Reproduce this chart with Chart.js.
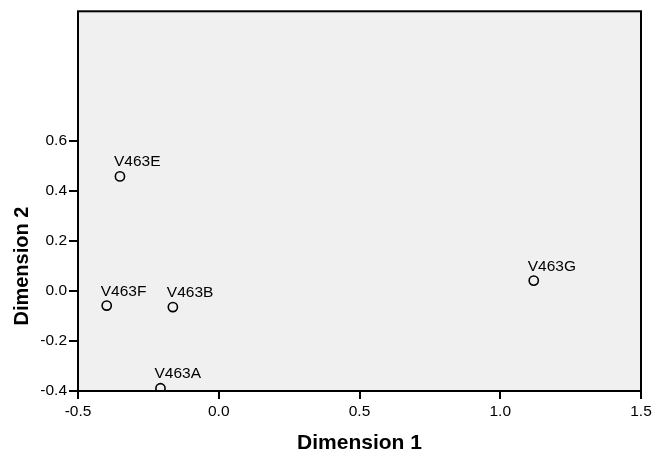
<!DOCTYPE html>
<html>
<head>
<meta charset="utf-8">
<script src="https://cdn.jsdelivr.net/npm/chart.js@4"></script>
<style>
  html, body { margin: 0; padding: 0; background: #fff; }
  #wrap { width: 662px; height: 452px; }
</style>
</head>
<body>
<div id="wrap"><canvas id="chart" width="662" height="452"></canvas></div>
<script>
// values
const pointLabels = ['V463E', 'V463F', 'V463B', 'V463A', 'V463G'];
const dim1 = [-0.351, -0.398, -0.163, -0.207, 1.119];
const dim2 = [0.459, -0.058, -0.064, -0.389, 0.042];

const xTicks = [-0.5, 0.0, 0.5, 1.0, 1.5];
const yTicks = [-0.4, -0.2, 0.0, 0.2, 0.4, 0.6];
const yMax = 1.12;

const FONT = '"Liberation Sans", Arial, sans-serif';

// grey plot background, frame and the rotated y title
const framePlugin = {
    id: 'frame',
    beforeDraw(chart) {
        const { ctx, chartArea: a } = chart;
        ctx.save();
        ctx.fillStyle = '#fff';
        ctx.fillRect(0, 0, chart.width, chart.height);
        ctx.fillStyle = '#f0f0f0';
        ctx.fillRect(a.left, a.top, a.right - a.left, a.bottom - a.top);
        ctx.restore();
    },
    beforeDatasetsDraw(chart) {
        const { ctx, chartArea: a } = chart;
        ctx.save();
        ctx.strokeStyle = '#000';
        ctx.lineWidth = 2;
        ctx.strokeRect(a.left, a.top, a.right - a.left, a.bottom - a.top);

        // y title, centred on the tick range like the original
        const ys = chart.scales.y;
        const midY = (ys.getPixelForValue(yTicks[0]) + ys.getPixelForValue(yTicks[yTicks.length - 1])) / 2;
        ctx.translate(22, midY);
        ctx.rotate(-Math.PI / 2);
        ctx.fillStyle = '#000';
        ctx.font = 'bold 20px ' + FONT;
        ctx.textAlign = 'center';
        ctx.textBaseline = 'middle';
        ctx.fillText('Dimension 2', 0, 0);
        ctx.restore();
    },
    afterDatasetsDraw(chart) {
        const { ctx } = chart;
        const meta = chart.getDatasetMeta(0);
        ctx.save();
        ctx.fillStyle = '#000';
        ctx.font = '15.5px ' + FONT;
        ctx.textAlign = 'left';
        ctx.textBaseline = 'alphabetic';
        meta.data.forEach((pt, i) => {
            ctx.fillText(pointLabels[i], pt.x - 6, pt.y - 10);
        });
        ctx.restore();
    }
};

const tickFont = { family: FONT, size: 15.5 };

new Chart(document.getElementById('chart'), {
    type: 'scatter',
    data: {
        datasets: [{
            data: dim1.map((x, i) => ({ x: x, y: dim2[i] })),
            pointStyle: 'circle',
            pointRadius: 4.6,
            pointHoverRadius: 4.6,
            pointBorderWidth: 1.6,
            pointBackgroundColor: 'rgba(0,0,0,0)',
            pointBorderColor: '#000'
        }]
    },
    options: {
        responsive: false,
        animation: false,
        layout: { padding: { top: 10, right: 21, left: 0, bottom: 0 } },
        plugins: {
            legend: { display: false },
            tooltip: { enabled: false }
        },
        scales: {
            x: {
                type: 'linear',
                min: xTicks[0],
                max: xTicks[xTicks.length - 1],
                afterBuildTicks: s => { s.ticks = xTicks.map(v => ({ value: v })); },
                afterFit: s => { s.height = 61; },
                ticks: {
                    color: '#000',
                    font: tickFont,
                    padding: 3,
                    maxRotation: 0,
                    callback: v => v.toFixed(1)
                },
                grid: { drawOnChartArea: false, drawTicks: true, tickLength: 8, color: '#000', lineWidth: 2 },
                border: { display: false },
                title: {
                    display: true,
                    text: 'Dimension 1',
                    color: '#000',
                    font: { family: FONT, size: 21, weight: 'bold', lineHeight: 0.8 },
                    padding: { top: 0, bottom: 0 }
                }
            },
            y: {
                type: 'linear',
                min: yTicks[0],
                max: yMax,
                afterBuildTicks: s => { s.ticks = yTicks.map(v => ({ value: v })); },
                afterFit: s => { s.width = 78; },
                ticks: {
                    color: '#000',
                    font: tickFont,
                    padding: 2,
                    callback: v => v.toFixed(1)
                },
                grid: { drawOnChartArea: false, drawTicks: true, tickLength: 9, color: '#000', lineWidth: 2 },
                border: { display: false }
            }
        }
    },
    plugins: [framePlugin]
});
</script>
</body>
</html>
